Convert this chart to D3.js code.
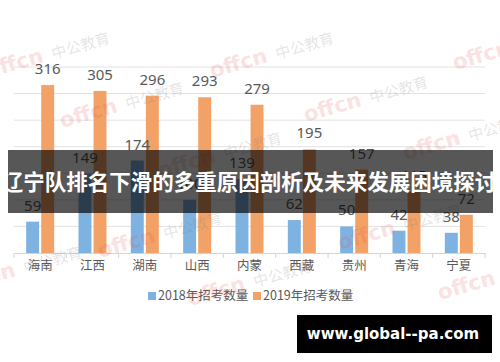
<!DOCTYPE html>
<html>
<head>
<meta charset="utf-8">
<script src="https://cdn.jsdelivr.net/npm/d3@7"></script>
<style>
  body { margin: 0; background: #fff; }
  svg { display: block; }
</style>
</head>
<body>
<script>
const categories = ["海南", "江西", "湖南", "山西", "内蒙", "西藏", "贵州", "青海", "宁夏"];
const series = ["2018年招考数量", "2019年招考数量"];
const values2018 = [59, 149, 174, 100, 139, 62, 50, 42, 38];
const values2019 = [316, 305, 296, 293, 279, 195, 157, 115, 72];
const yTicks = [0, 50, 100, 150, 200, 250, 300, 350];
const title = "辽宁队排名下滑的多重原因剖析及未来发展困境探讨";
const site = "www.global--pa.com";

const width = 500;
const height = 362;
const colors = ["#7eb2e1", "#f2a266"];

const svg = d3.select("body").append("svg")
  .attr("width", width)
  .attr("height", height)
  .style("background", "#fff");

const x = d3.scaleBand().domain(categories).range([14, 485]);
const x1 = d3.scaleBand().domain(series).range([x.bandwidth() / 2 - 14, x.bandwidth() / 2 + 14]).paddingInner(0.14);
const y = d3.scaleLinear().domain([0, 350]).range([253, 67]);

// grid
svg.append("g")
  .selectAll("line")
  .data(yTicks.slice(1))
  .enter()
  .append("line")
  .attr("x1", 14)
  .attr("x2", 485)
  .attr("y1", (d) => y(d))
  .attr("y2", (d) => y(d))
  .attr("stroke", "#e2e2e2")
  .attr("stroke-width", 1);

// x axis
const xg = svg.append("g").attr("transform", `translate(0,${y(0)})`);
xg.call(d3.axisBottom(x).tickSize(0).tickPadding(8));
xg.select(".domain").attr("stroke", "#d4d4d4");
xg.selectAll("text")
  .attr("fill", "#595959")
  .attr("font-size", 12.5)
  .attr("font-family", "Noto Sans CJK SC, sans-serif");
xg.selectAll(".sep")
  .data(d3.range(categories.length + 1))
  .enter()
  .append("line")
  .attr("x1", (i) => x.range()[0] + i * x.step())
  .attr("x2", (i) => x.range()[0] + i * x.step())
  .attr("y1", 0)
  .attr("y2", 5)
  .attr("stroke", "#d4d4d4");

// bars
const rows = categories.map((c, i) => ({ c, v: [values2018[i], values2019[i]] }));
const groups = svg.append("g")
  .selectAll("g")
  .data(rows)
  .enter()
  .append("g")
  .attr("transform", (d) => `translate(${x(d.c)},0)`);

groups.selectAll("rect")
  .data((d) => d.v.map((v, k) => ({ s: series[k], v, k })))
  .enter()
  .append("rect")
  .attr("x", (d) => x1(d.s))
  .attr("width", x1.bandwidth())
  .attr("y", (d) => y(d.v))
  .attr("height", (d) => y(0) - y(d.v))
  .attr("fill", (d) => colors[d.k]);

groups.selectAll("text")
  .data((d) => d.v.map((v, k) => ({ s: series[k], v, k })))
  .enter()
  .append("text")
  .attr("x", (d) => x1(d.s) + x1.bandwidth() / 2)
  .attr("y", (d) => y(d.v) - 11)
  .attr("text-anchor", "middle")
  .attr("fill", "#595959")
  .attr("font-size", 15)
  .attr("font-family", "Noto Sans, sans-serif")
  .text((d) => d.v);

// legend
const legend = svg.append("g").attr("transform", "translate(0,296)");
const lx = [148, 253];
series.forEach((s, k) => {
  legend.append("rect")
    .attr("x", lx[k])
    .attr("y", -4)
    .attr("width", 8)
    .attr("height", 8)
    .attr("fill", colors[k]);
  legend.append("text")
    .attr("x", lx[k] + 10)
    .attr("y", 0)
    .attr("dy", "0.35em")
    .attr("fill", "#595959")
    .attr("font-size", 12.5)
    .attr("font-family", "Noto Sans CJK SC, sans-serif")
    .text(s);
});

// watermarks (faint, behind the banner)
const marks = [[-12, 78], [62, 128], [212, 78], [306, 122], [455, 70], [160, 178], [100, 258], [340, 250], [440, 300], [190, 306], [-40, 292], [405, 160]];
const wm = svg.append("g").attr("pointer-events", "none");
marks.forEach(([mx, my]) => {
  const g = wm.append("g").attr("transform", `translate(${mx},${my}) rotate(-16)`);
  g.append("text")
    .attr("font-size", 21)
    .attr("font-weight", "bold")
    .attr("font-family", "DejaVu Sans, sans-serif")
    .attr("fill", "rgba(232,70,70,0.18)")
    .text("offcn");
  g.append("text")
    .attr("x", 68)
    .attr("font-size", 15)
    .attr("font-family", "Noto Sans CJK SC, sans-serif")
    .attr("fill", "rgba(120,120,120,0.2)")
    .text("中公教育");
});

// title banner
svg.append("rect")
  .attr("x", 8)
  .attr("y", 150)
  .attr("width", 485)
  .attr("height", 63)
  .attr("fill", "rgba(0,0,0,0.66)");
svg.append("text")
  .attr("x", 249)
  .attr("y", 182)
  .attr("dy", "0.36em")
  .attr("text-anchor", "middle")
  .attr("fill", "#fff")
  .attr("font-size", 21.5)
  .attr("font-weight", "bold")
  .attr("font-family", "Noto Sans CJK SC, sans-serif")
  .text(title);

// site box
svg.append("rect")
  .attr("x", 297)
  .attr("y", 315)
  .attr("width", 195)
  .attr("height", 38)
  .attr("fill", "#000");
svg.append("text")
  .attr("x", 393)
  .attr("y", 334)
  .attr("dy", "0.36em")
  .attr("text-anchor", "middle")
  .attr("fill", "#fff")
  .attr("font-size", 15)
  .attr("font-weight", "bold")
  .attr("font-family", "DejaVu Sans, sans-serif")
  .text(site);
</script>
</body>
</html>
